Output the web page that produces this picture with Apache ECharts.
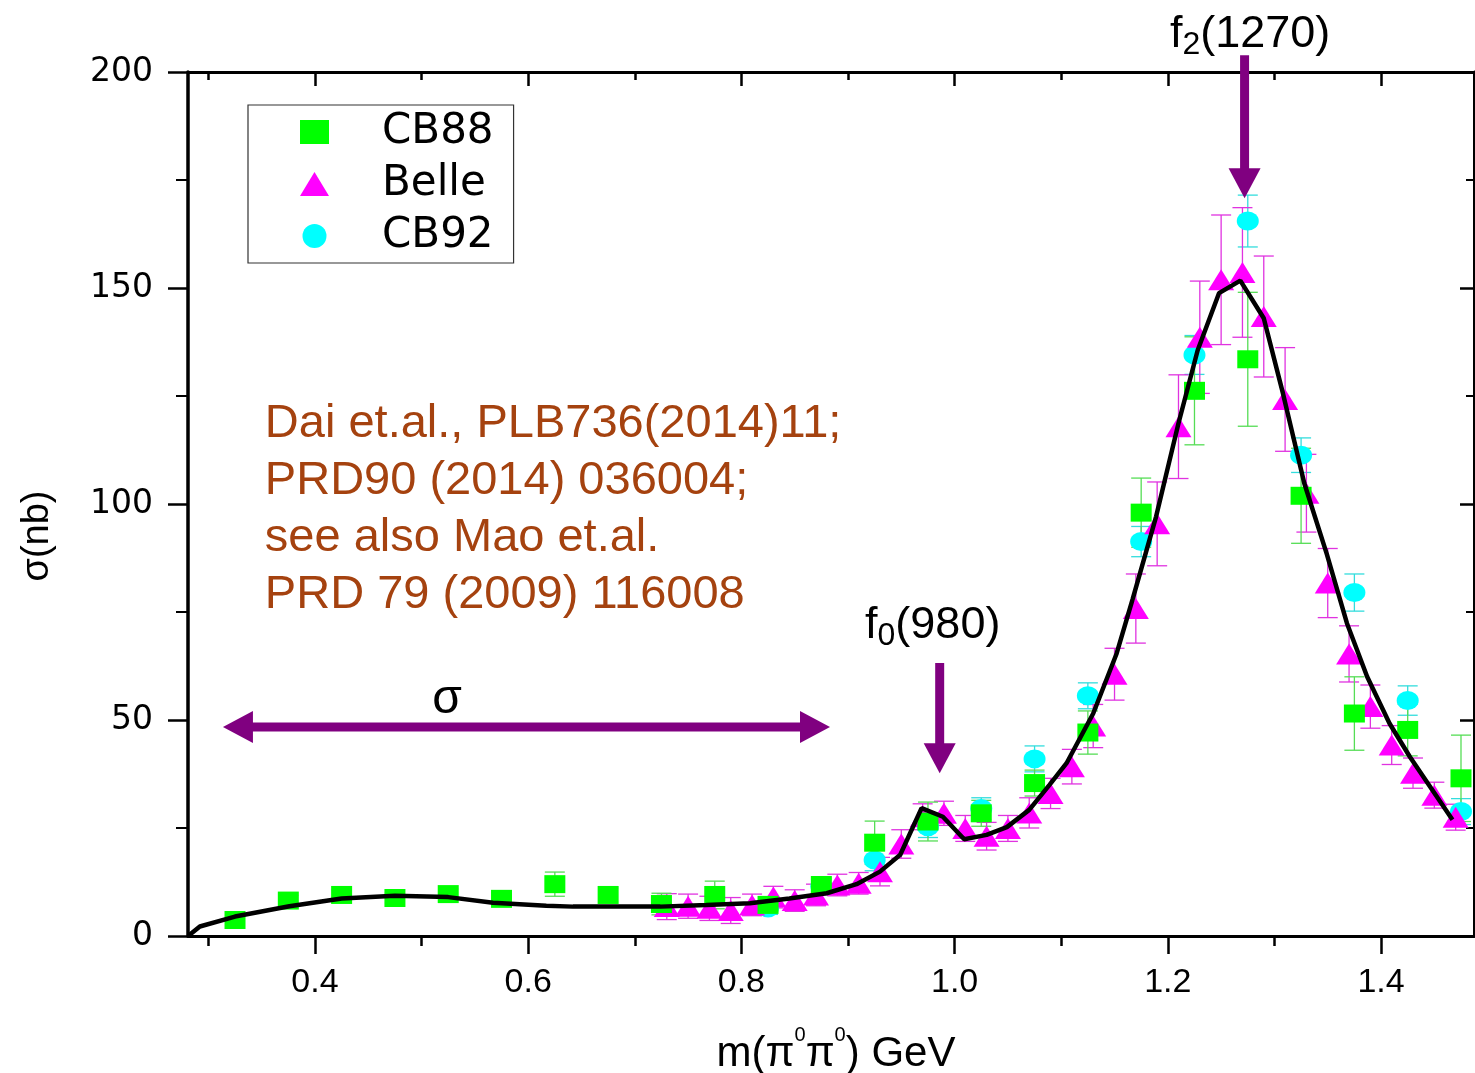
<!DOCTYPE html>
<html>
<head>
<meta charset="utf-8">
<script src="https://cdn.jsdelivr.net/npm/echarts@6/dist/echarts.min.js"></script>
<style>
  html, body { margin: 0; padding: 0; background: #fff; }
  #chart { width: 1475px; height: 1073px; }
</style>
</head>
<body>
<div id="chart"></div>
<script>
// CB88 (green squares)
const cb88X = [0.325, 0.375, 0.425, 0.475, 0.525, 0.575, 0.625, 0.675, 0.725, 0.775, 0.825, 0.875,
  0.925, 0.975, 1.025, 1.075, 1.125, 1.175, 1.225, 1.275, 1.325, 1.375, 1.425, 1.475];
const cb88Y = [3.7, 8.2, 9.5, 8.8, 9.7, 8.6, 12.0, 9.5, 7.4, 9.5, 7.2, 11.8,
  21.6, 26.5, 28.4, 35.4, 47.1, 98.0, 126.2, 133.5, 101.9, 51.5, 47.7, 36.5];
const cb88Err = [1.0, 1.2, 1.2, 1.2, 1.2, 1.4, 2.8, 1.6, 2.5, 3.2, 1.5, 1.6,
  5.0, 4.5, 3.0, 3.0, 5.0, 8.0, 12.5, 15.5, 11.0, 8.5, 6.0, 10.0];

// Belle (magenta triangles)
const belleX = [0.73, 0.75, 0.77, 0.79, 0.81, 0.83, 0.85, 0.87, 0.89, 0.91,
  0.93, 0.95, 0.97, 0.99, 1.01, 1.03, 1.05, 1.07, 1.09, 1.11,
  1.13, 1.15, 1.17, 1.19, 1.21, 1.23, 1.25, 1.27, 1.29, 1.31,
  1.33, 1.35, 1.37, 1.39, 1.41, 1.43, 1.45, 1.47];
const belleY = [6.8, 6.9, 6.4, 5.9, 7.2, 9.0, 8.2, 9.5, 11.8, 12.2,
  14.9, 21.3, 27.6, 28.4, 24.9, 23.1, 24.9, 28.5, 33.0, 39.2,
  48.6, 60.6, 75.8, 95.4, 117.9, 138.6, 151.9, 153.6, 143.4, 124.2,
  102.5, 81.7, 65.3, 53.1, 44.2, 37.7, 32.6, 27.5];
const belleErr = [3.0, 2.8, 2.8, 3.0, 2.5, 2.5, 2.5, 2.5, 2.5, 2.5,
  3.3, 3.3, 3.0, 2.8, 3.0, 3.2, 3.0, 3.5, 3.5, 4.0,
  5.0, 6.0, 8.0, 9.7, 12.0, 13.0, 15.0, 15.0, 14.0, 12.0,
  9.0, 8.0, 6.5, 5.0, 4.5, 3.5, 3.0, 3.0];

// CB92 (cyan circles)
const cb92X = [0.825, 0.875, 0.925, 0.975, 1.025, 1.075, 1.125, 1.175, 1.225, 1.275, 1.325, 1.375, 1.425, 1.475];
const cb92Y = [6.5, 11.5, 17.6, 25.3, 29.5, 41.0, 55.6, 91.3, 134.5, 165.5, 111.3, 79.5, 54.5, 28.8];
const cb92Err = [1.5, 1.5, 2.5, 2.5, 2.5, 3.0, 3.0, 3.5, 4.5, 6.0, 4.0, 4.3, 3.4, 3.0];

// theory curve
const theoryX = [0.281, 0.292, 0.325, 0.376, 0.425, 0.475, 0.525, 0.567, 0.617, 0.642, 0.724, 0.767,
  0.808, 0.845, 0.880, 0.908, 0.930, 0.949, 0.969, 0.989, 1.009, 1.030, 1.049, 1.070,
  1.089, 1.105, 1.130, 1.152, 1.167, 1.189, 1.210, 1.228, 1.248, 1.268, 1.290, 1.308,
  1.328, 1.349, 1.368, 1.387, 1.408, 1.427, 1.447, 1.467];
const theoryY = [0.0, 2.2, 4.5, 6.9, 8.7, 9.3, 9.0, 7.7, 7.0, 6.8, 6.8, 7.2,
  7.6, 8.7, 9.9, 12.0, 14.9, 18.8, 29.6, 27.6, 22.4, 23.4, 25.2, 29.2,
  35.0, 40.0, 51.5, 65.4, 78.0, 97.1, 118.7, 135.6, 148.8, 151.7, 143.0, 125.6,
  104.8, 88.5, 72.4, 60.0, 49.2, 41.5, 34.2, 26.9];

const xMajorTicks = [0.4, 0.6, 0.8, 1.0, 1.2, 1.4];
const xMinorTicks = [0.3, 0.5, 0.7, 0.9, 1.1, 1.3];

const FONT = 'Liberation Sans, Arial, sans-serif';
const PURPLE = '#800080';
const GREEN = '#00ff00', MAGENTA = '#ff00ff', CYAN = '#00ffff';

function pairs(xs, ys) { return xs.map((x, i) => [x, ys[i]]); }
function errData(xs, ys, es) { return xs.map((x, i) => [x, ys[i] - es[i], ys[i] + es[i]]); }

function errRender(color) {
  return function (params, api) {
    const x = api.value(0);
    const lo = api.coord([x, api.value(1)]);
    const hi = api.coord([x, api.value(2)]);
    const w = 10;
    const st = { stroke: color, lineWidth: 1.3 };
    return {
      type: 'group',
      children: [
        { type: 'line', shape: { x1: lo[0], y1: lo[1], x2: hi[0], y2: hi[1] }, style: st },
        { type: 'line', shape: { x1: lo[0] - w, y1: lo[1], x2: lo[0] + w, y2: lo[1] }, style: st },
        { type: 'line', shape: { x1: hi[0] - w, y1: hi[1], x2: hi[0] + w, y2: hi[1] }, style: st }
      ]
    };
  };
}

function errSeries(xs, ys, es, color) {
  return {
    type: 'custom', xAxisIndex: 0, yAxisIndex: 0,
    renderItem: errRender(color),
    encode: { x: 0, y: [1, 2] },
    data: errData(xs, ys, es),
    silent: true, z: 2
  };
}

const chart = echarts.init(document.getElementById('chart'));

const xBase = { type: 'value', min: 0.2809, max: 1.4872, splitLine: { show: false } };
const yBase = { type: 'value', min: 0, max: 200, interval: 50, splitLine: { show: false } };

const option = {
  animation: false,
  backgroundColor: '#fff',
  grid: { left: 188, right: 1, top: 72, bottom: 137, containLabel: false },
  legend: {
    orient: 'vertical', left: 248, top: 105,
    padding: [6, 20, 6, 52], itemGap: 10, itemWidth: 29, itemHeight: 24,
    borderColor: '#333', borderWidth: 1.2,
    textStyle: { fontFamily: 'DejaVu Sans', fontSize: 42, color: '#000', padding: [0, 0, 0, 48], lineHeight: 40 },
    data: ['CB88', 'Belle', 'CB92']
  },
  xAxis: [
    Object.assign({}, xBase, {
      position: 'bottom',
      axisLine: { onZero: false, lineStyle: { color: '#000', width: 3 } },
      axisTick: { show: true, inside: false, length: 18, customValues: xMajorTicks, lineStyle: { color: '#000', width: 2.5 } },
      axisLabel: { customValues: xMajorTicks, formatter: v => v.toFixed(1), margin: 30, fontSize: 34, fontFamily: FONT, color: '#000' }
    }),
    Object.assign({}, xBase, {
      position: 'bottom',
      axisLine: { show: false, onZero: false },
      axisTick: { show: true, inside: false, length: 10, customValues: xMinorTicks, lineStyle: { color: '#000', width: 2.5 } },
      axisLabel: { show: false }
    }),
    Object.assign({}, xBase, {
      position: 'top',
      axisLine: { onZero: false, lineStyle: { color: '#000', width: 3 } },
      axisTick: { show: true, inside: true, length: 14, customValues: xMajorTicks, lineStyle: { color: '#000', width: 2.5 } },
      axisLabel: { show: false }
    }),
    Object.assign({}, xBase, {
      position: 'top',
      axisLine: { show: false, onZero: false },
      axisTick: { show: true, inside: true, length: 8, customValues: xMinorTicks, lineStyle: { color: '#000', width: 2.5 } },
      axisLabel: { show: false }
    })
  ],
  yAxis: [
    Object.assign({}, yBase, {
      position: 'left',
      axisLine: { show: true, onZero: false, lineStyle: { color: '#000', width: 3.5 } },
      axisTick: { show: true, inside: false, length: 20, lineStyle: { color: '#000', width: 2.5 } },
      minorTick: { show: true, splitNumber: 2, length: 12, lineStyle: { color: '#000', width: 2 } },
      axisLabel: { margin: 35, fontSize: 33, fontFamily: 'DejaVu Sans', color: '#000' }
    }),
    Object.assign({}, yBase, {
      position: 'right',
      axisLine: { show: true, onZero: false, lineStyle: { color: '#000', width: 3 } },
      axisTick: { show: true, inside: true, length: 14, lineStyle: { color: '#000', width: 2.5 } },
      minorTick: { show: true, splitNumber: 2, length: 8, lineStyle: { color: '#000', width: 2 } },
      axisLabel: { show: false }
    })
  ],
  series: [
    errSeries(cb92X, cb92Y, cb92Err, '#33dddd'),
    errSeries(belleX, belleY, belleErr, '#e033e0'),
    errSeries(cb88X, cb88Y, cb88Err, '#55dd55'),
    {
      name: 'CB92', type: 'scatter', xAxisIndex: 0, yAxisIndex: 0,
      symbol: 'circle', symbolSize: [22, 19], itemStyle: { color: CYAN, opacity: 1 },
      data: pairs(cb92X, cb92Y), z: 3
    },
    {
      name: 'Belle', type: 'scatter', xAxisIndex: 0, yAxisIndex: 0,
      symbol: 'triangle', symbolSize: [26, 21], itemStyle: { color: MAGENTA, opacity: 1 },
      data: pairs(belleX, belleY), z: 4
    },
    {
      name: 'CB88', type: 'scatter', xAxisIndex: 0, yAxisIndex: 0,
      symbol: 'rect', symbolSize: [21, 18], itemStyle: { color: GREEN, opacity: 1 },
      data: pairs(cb88X, cb88Y), z: 5
    },
    {
      name: 'theory', type: 'line', xAxisIndex: 0, yAxisIndex: 0,
      showSymbol: false, symbol: 'none', smooth: false,
      lineStyle: { color: '#000', width: 4.5 },
      data: pairs(theoryX, theoryY), z: 6, silent: true
    }
  ]
};
chart.setOption(option);

// annotations, anchored in data coordinates
const arrows = [
  { from: [0.986, 63.2], to: [0.986, 37.7], both: false },
  { from: [1.272, 203.9], to: [1.272, 170.8], both: false },
  { from: [0.3137, 48.4], to: [0.8831, 48.4], both: true }
];
const toPx = p => chart.convertToPixel({ xAxisIndex: 0, yAxisIndex: 0 }, p);

function arrowEls(a) {
  const p0 = toPx(a.from), p1 = toPx(a.to);
  const dx = p1[0] - p0[0], dy = p1[1] - p0[1];
  const len = Math.hypot(dx, dy);
  const ux = dx / len, uy = dy / len, nx = -uy, ny = ux;
  const HL = 30, HW = 16;
  const s0 = a.both ? [p0[0] + ux * (HL - 2), p0[1] + uy * (HL - 2)] : p0;
  const s1 = [p1[0] - ux * (HL - 2), p1[1] - uy * (HL - 2)];
  const head = (tip, b) => ({
    type: 'polygon', z: 100,
    shape: { points: [tip, [b[0] + nx * HW, b[1] + ny * HW], [b[0] - nx * HW, b[1] - ny * HW]] },
    style: { fill: PURPLE }
  });
  const els = [
    { type: 'line', z: 100, shape: { x1: s0[0], y1: s0[1], x2: s1[0], y2: s1[1] }, style: { stroke: PURPLE, lineWidth: 9 } },
    head(p1, [p1[0] - ux * HL, p1[1] - uy * HL])
  ];
  if (a.both) els.push(head(p0, [p0[0] + ux * HL, p0[1] + uy * HL]));
  return els;
}

const refText = 'Dai et.al., PLB736(2014)11;\nPRD90 (2014) 036004;\nsee also Mao et.al.\nPRD 79 (2009) 116008';
const refPos = toPx([0.353, 98.7]);
const f0Pos = toPx([0.916, 72.5]);
const f2Pos = toPx([1.202, 209.3]);
const sigPos = toPx([0.524, 54.6]);

const labelRich = {
  m: { fontFamily: FONT, fontSize: 45, lineHeight: 50, fill: '#000' },
  s: { fontFamily: FONT, fontSize: 32, lineHeight: 34, padding: [20, 0, 0, 0], fill: '#000' }
};

const graphics = [];
arrows.forEach(a => arrowEls(a).forEach(e => graphics.push(e)));
graphics.push(
  {
    type: 'text', x: refPos[0], y: refPos[1], z: 100,
    style: { text: refText, fontFamily: FONT, fontSize: 47, lineHeight: 57, fill: '#a5420f', align: 'left', verticalAlign: 'middle' }
  },
  {
    type: 'text', x: f0Pos[0], y: f0Pos[1] + 3, z: 100,
    style: { text: '{m|f}{s|0}{m|(980)}', align: 'left', verticalAlign: 'middle', rich: labelRich }
  },
  {
    type: 'text', x: f2Pos[0], y: f2Pos[1] + 3, z: 100,
    style: { text: '{m|f}{s|2}{m|(1270)}', align: 'left', verticalAlign: 'middle', rich: labelRich }
  },
  {
    type: 'text', x: sigPos[0], y: sigPos[1], z: 100,
    style: { text: 'σ', fontFamily: FONT, fontSize: 48, fill: '#000', align: 'center', verticalAlign: 'middle' }
  },
  {
    type: 'text', x: 836, y: 1050, z: 100,
    style: {
      text: '{t|m(π}{u|0}{t|π}{u|0}{t|) GeV}', align: 'center', verticalAlign: 'middle',
      rich: {
        t: { fontFamily: FONT, fontSize: 42, lineHeight: 50, fill: '#000', verticalAlign: 'bottom' },
        u: { fontFamily: FONT, fontSize: 20, lineHeight: 24, fill: '#000', verticalAlign: 'top' }
      }
    }
  },
  {
    type: 'text', x: 38, y: 536, rotation: Math.PI / 2, z: 100,
    style: { text: 'σ(nb)', fontFamily: FONT, fontSize: 38, fill: '#000', align: 'center', verticalAlign: 'middle' }
  }
);
chart.setOption({ graphic: graphics });
</script>
</body>
</html>
